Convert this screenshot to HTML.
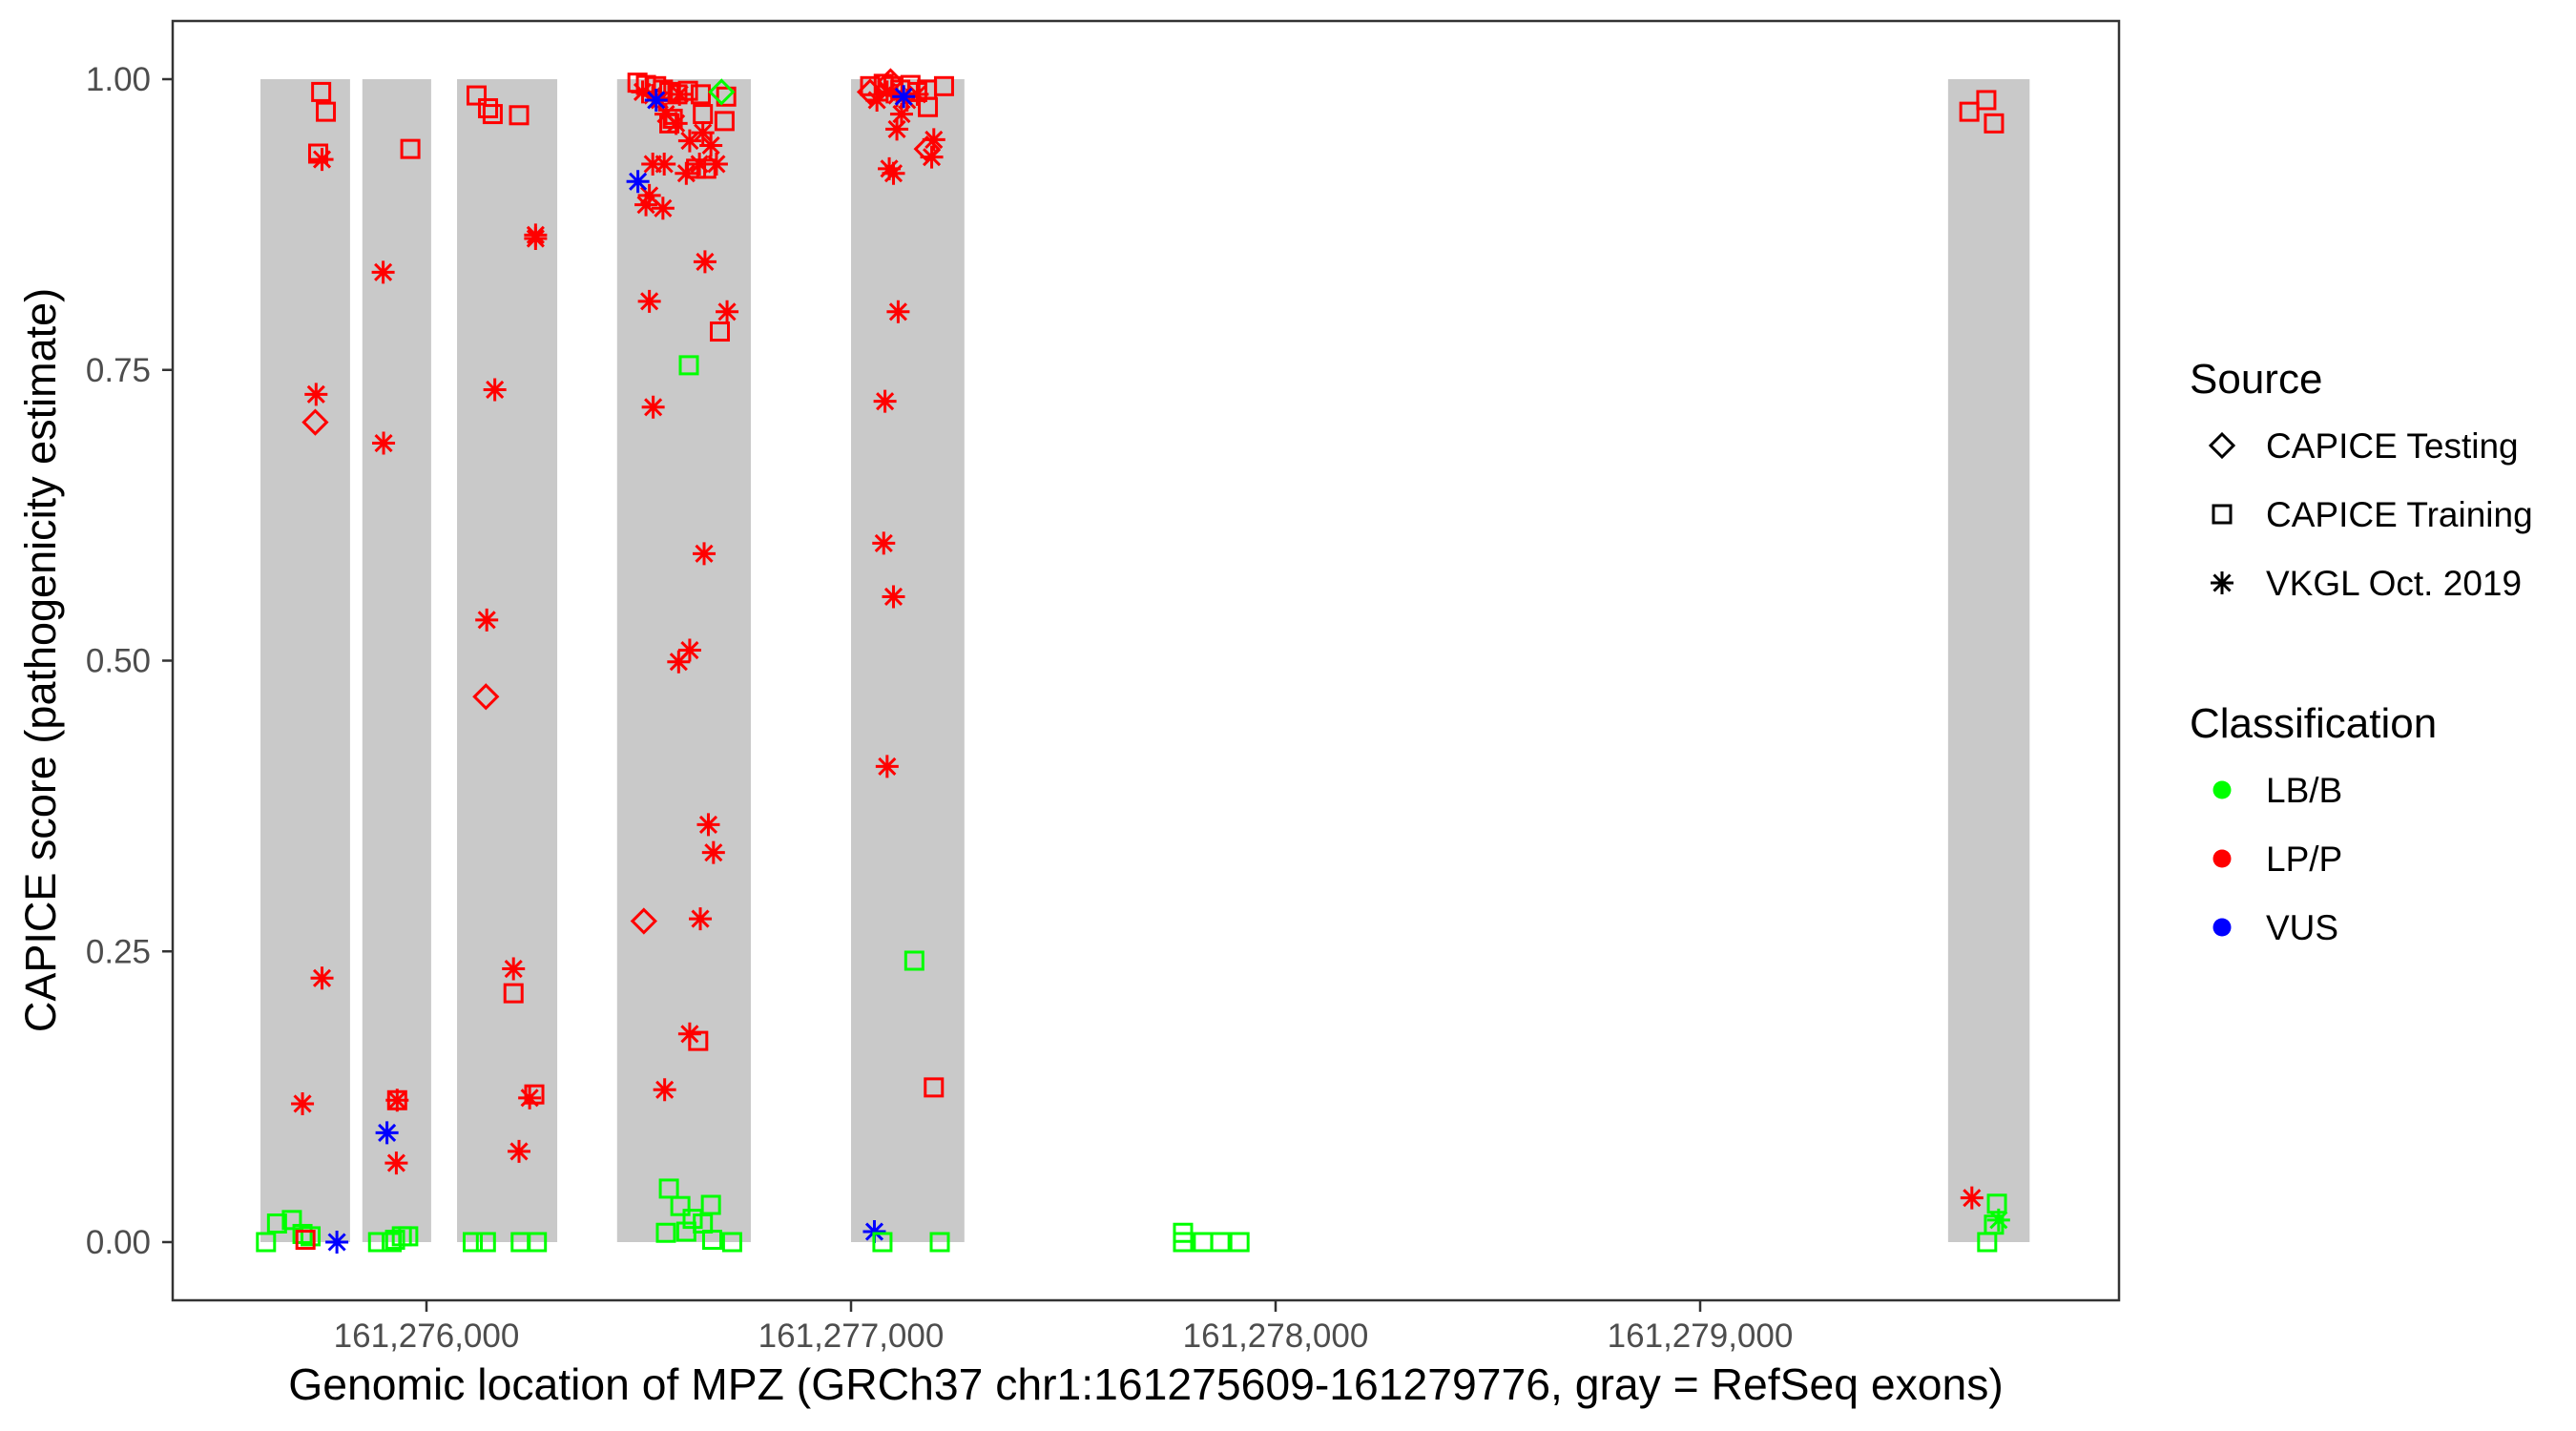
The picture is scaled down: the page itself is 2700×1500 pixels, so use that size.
<!DOCTYPE html>
<html><head><meta charset="utf-8">
<style>
html,body{margin:0;padding:0;background:#fff;}
svg{display:block;font-family:"Liberation Sans",Arial,sans-serif;}
</style></head>
<body>
<svg id="chart" width="2700" height="1500" viewBox="0 0 2700 1500" xmlns="http://www.w3.org/2000/svg">
  <rect x="0" y="0" width="2700" height="1500" fill="#fff"/>
  <g id="exons"></g>
  <g id="points"></g>
  <rect x="181" y="22" width="2040" height="1341" fill="none" stroke="#333" stroke-width="2.5"/>
  <g id="axes"></g>
  <text x="1201" y="1467" font-size="46.3" text-anchor="middle" fill="#000">Genomic location of MPZ (GRCh37 chr1:161275609-161279776, gray = RefSeq exons)</text>
  <text transform="translate(58,692) rotate(-90)" font-size="45" text-anchor="middle" fill="#000">CAPICE score (pathogenicity estimate)</text>
  <g>
    <text x="2295" y="412" font-size="44" fill="#000">Source</text>
    <polygon points="2329,455 2341,467 2329,479 2317,467" fill="none" stroke="#000" stroke-width="3"/>
    <text x="2375" y="480" font-size="37" fill="#000">CAPICE Testing</text>
    <rect x="2320" y="530" width="18" height="18" fill="none" stroke="#000" stroke-width="3"/>
    <text x="2375" y="552" font-size="37" fill="#000">CAPICE Training</text>
    <g stroke="#000" stroke-width="3">
      <line x1="2329" y1="599" x2="2329" y2="623"/><line x1="2317" y1="611" x2="2341" y2="611"/>
      <line x1="2320.5" y1="602.5" x2="2337.5" y2="619.5"/><line x1="2320.5" y1="619.5" x2="2337.5" y2="602.5"/>
    </g>
    <text x="2375" y="624" font-size="37" fill="#000">VKGL Oct. 2019</text>
    <text x="2295" y="773" font-size="44" fill="#000">Classification</text>
    <circle cx="2329" cy="828" r="9.5" fill="#00FF00"/>
    <text x="2375" y="841" font-size="37" fill="#000">LB/B</text>
    <circle cx="2329" cy="900" r="9.5" fill="#FF0000"/>
    <text x="2375" y="913" font-size="37" fill="#000">LP/P</text>
    <circle cx="2329" cy="972" r="9.5" fill="#0000FF"/>
    <text x="2375" y="985" font-size="37" fill="#000">VUS</text>
  </g>
</svg>
<script>
// ---- data ----
const positionBase = 161276000;
const exonStarts = [161275609, 161275849, 161276072, 161276449, 161277000, 161279584];
const exonEnds   = [161275820, 161276011, 161276308, 161276764, 161277267, 161279776];
const xTickValues = [161276000, 161277000, 161278000, 161279000];
const xTickLabels = ["161,276,000", "161,277,000", "161,278,000", "161,279,000"];
const yTickValues = [0, 0.25, 0.5, 0.75, 1];
const yTickLabels = ["0.00", "0.25", "0.50", "0.75", "1.00"];
// variant position offsets relative to positionBase
const positionOffsets = [
 -248,-237,-255,-246,-260,-262,-246,-292,-378,-352,-317,-292,-273,-285,-211,
 -38,-102,-101,-69,-69,-93,-71,-114,-82,-74,-58,-43,
 118,145,156,218,257,257,161,142,140,205,205,254,243,218,109,140,222,260,
 497,517,541,557,572,591,616,646,706,651,702,580,572,635,659,691,
 509,533,549,564,588,620,651,670,643,683,612,533,560,525,517,557,596,
 541,498,695,
 656,708,525,534,654,620,594,664,676,645,620,561,640,512,
 618,571,598,670,627,651,564,612,673,720,
 1045,1077,1100,1116,1140,1156,1179,1219,1181,
 1093,1045,1179,
 1061,1085,1108,1132,1156,1119,1108,1195,1190,1090,1100,1111,1080,1077,1100,1085,
 1124,1055,1149,1074,1209,1195,
 1782,1782,1829,1870,1915,
 3634,3674,3692,3640,3699,3692,3676,3703
];
const scores = [
 .989,.972,.936,.931,.729,.705,.227,.119,0,.016,.019,.007,.005,.002,0,
 .940,.834,.687,.122,.122,.094,.068,0,0,.002,.005,.005,
 .986,.975,.970,.969,.866,.863,.733,.535,.469,.235,.214,.127,.124,.078,0,0,0,0,
 .997,.995,.994,.991,.989,.987,.990,.987,.985,.970,.964,.966,.962,.923,.923,.783,
 .989,.986,.982,.970,.962,.947,.954,.943,.927,.927,.919,.927,.927,.900,.892,.889,.987,
 .982,.912,.989,
 .843,.800,.809,.718,.592,.509,.499,.359,.335,.278,.179,.131,.173,.276,
 .754,.046,.031,.032,.020,.016,.008,.009,.002,0,
 .994,.996,.994,.991,.995,.989,.991,.994,.976,
 .998,.989,.940,
 .982,.989,.986,.982,.987,.970,.957,.948,.933,.923,.919,.800,.723,.601,.555,.409,
 .985,.009,.242,0,0,.133,
 .008,0,0,0,0,
 .972,.982,.962,.038,.033,.015,0,.019
];
// source: T = CAPICE Testing, R = CAPICE Training, V = VKGL Oct. 2019
const sources = [
 "R","R","R","V","V","T","V","V","R","R","R","R","R","R","V",
 "R","V","V","R","V","V","V","R","R","R","R","R",
 "R","R","R","R","V","V","V","V","T","V","R","R","V","V","R","R","R","R",
 "R","R","R","R","R","R","R","R","R","R","R","R","R","R","R","R",
 "V","V","V","V","V","V","V","V","V","V","V","V","V","V","V","V","V",
 "V","V","T",
 "V","V","V","V","V","V","V","V","V","V","V","V","R","T",
 "R","R","R","R","R","R","R","R","R","R",
 "R","R","R","R","R","R","R","R","R",
 "T","T","T",
 "V","V","V","V","V","V","V","V","V","V","V","V","V","V","V","V",
 "V","V","R","R","R","R",
 "R","R","R","R","R",
 "R","R","R","V","R","R","R","V"
];
const classes = [
 "LP","LP","LP","LP","LP","LP","LP","LP","LB","LB","LB","LB","LB","LP","VUS",
 "LP","LP","LP","LP","LP","VUS","LP","LB","LB","LB","LB","LB",
 "LP","LP","LP","LP","LP","LP","LP","LP","LP","LP","LP","LP","LP","LP","LB","LB","LB","LB",
 "LP","LP","LP","LP","LP","LP","LP","LP","LP","LP","LP","LP","LP","LP","LP","LP",
 "LP","LP","LP","LP","LP","LP","LP","LP","LP","LP","LP","LP","LP","LP","LP","LP","LP",
 "VUS","VUS","LB",
 "LP","LP","LP","LP","LP","LP","LP","LP","LP","LP","LP","LP","LP","LP",
 "LB","LB","LB","LB","LB","LB","LB","LB","LB","LB",
 "LP","LP","LP","LP","LP","LP","LP","LP","LP",
 "LP","LP","LP",
 "LP","LP","LP","LP","LP","LP","LP","LP","LP","LP","LP","LP","LP","LP","LP","LP",
 "VUS","VUS","LB","LB","LB","LP",
 "LB","LB","LB","LB","LB",
 "LP","LP","LP","LP","LB","LB","LB","LB"
];

// ---- scales ----
const NS = "http://www.w3.org/2000/svg";
function xScale(p){ return 447 + (p - 161276000) * 0.445; }
function yScale(s){ return 1302 - s * 1219; }
const colorMap = {LB:"#00FF00", LP:"#FF0000", VUS:"#0000FF"};
function mk(tag, attrs, parent){
  const e = document.createElementNS(NS, tag);
  for (const k in attrs) e.setAttribute(k, attrs[k]);
  parent.appendChild(e);
  return e;
}

// exons
const exG = document.getElementById("exons");
for (let i = 0; i < exonStarts.length; i++){
  const x0 = xScale(exonStarts[i]), x1 = xScale(exonEnds[i]);
  const r = mk("rect", {x:x0, y:yScale(1), width:x1-x0, height:yScale(0)-yScale(1), fill:"#C9C9C9"}, exG);
  
  
}

// axes
const axG = document.getElementById("axes");
for (let i = 0; i < yTickValues.length; i++){
  const y = yScale(yTickValues[i]);
  const t = mk("line", {x1:170, y1:y, x2:181, y2:y, stroke:"#333", "stroke-width":2.5}, axG);
  
  
  const l = mk("text", {x:158, y:y+12, "font-size":35, "text-anchor":"end", fill:"#4d4d4d"}, axG);
  l.textContent = yTickLabels[i];
  
  
}
for (let i = 0; i < xTickValues.length; i++){
  const x = xScale(xTickValues[i]);
  const t = mk("line", {x1:x, y1:1363, x2:x, y2:1375, stroke:"#333", "stroke-width":2.5}, axG);
  
  
  const l = mk("text", {x:x, y:1412, "font-size":35, "text-anchor":"middle", fill:"#4d4d4d"}, axG);
  l.textContent = xTickLabels[i];
  
  
}

// points
const ptG = document.getElementById("points");
for (let i = 0; i < scores.length; i++){
  const cx = xScale(positionBase + positionOffsets[i]);
  const cy = yScale(scores[i]);
  const c = colorMap[classes[i]];
  let el;
  if (sources[i] === "R"){
    el = mk("rect", {x:cx-9, y:cy-9, width:18, height:18, fill:"none", stroke:c, "stroke-width":3}, ptG);
  } else if (sources[i] === "T"){
    el = mk("polygon", {points:`${cx},${cy-12} ${cx+12},${cy} ${cx},${cy+12} ${cx-12},${cy}`, fill:"none", stroke:c, "stroke-width":3}, ptG);
  } else {
    el = mk("path", {d:`M${cx} ${cy-12}V${cy+12}M${cx-12} ${cy}H${cx+12}M${cx-8.5} ${cy-8.5}L${cx+8.5} ${cy+8.5}M${cx-8.5} ${cy+8.5}L${cx+8.5} ${cy-8.5}`, stroke:c, "stroke-width":3, fill:"none"}, ptG);
  }
  
  
}
</script>
</body></html>
